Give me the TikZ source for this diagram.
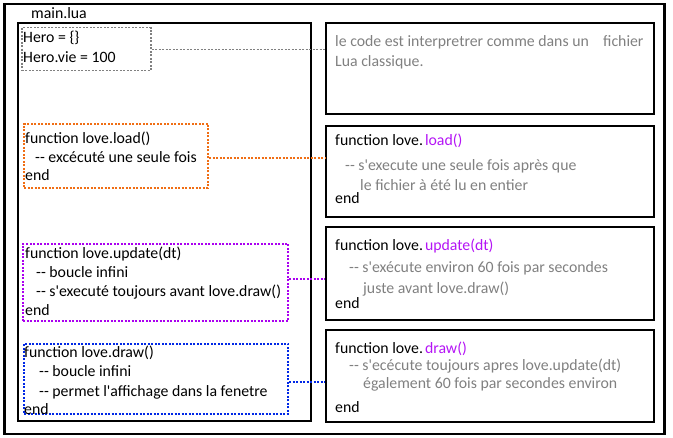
\documentclass[tikz,border=0pt]{standalone}
\usepackage{fontspec}
\setmainfont{Carlito}[Ligatures=TeXOff]
\definecolor{codegray}{RGB}{128,128,128}
\definecolor{loadorange}{RGB}{240,110,20}
\definecolor{updatepurple}{RGB}{170,0,240}
\definecolor{lovepurple}{RGB}{180,20,245}
\definecolor{drawblue}{RGB}{0,40,230}
\newcommand{\codefont}{\fontsize{15.8}{19}\selectfont}

\tikzset{
	frame/.style={draw, line width=2pt, inner sep=0pt, anchor=north west},
	codebox/.style={draw, line width=2pt, dash pattern=on 2pt off 1.5pt, inner sep=0pt, anchor=north west},
	codetext/.style={anchor=north west, inner sep=0pt, align=left, font=\codefont},
	link/.style={line width=2pt, dash pattern=on 2pt off 1.5pt},
}

\begin{document}
\begin{tikzpicture}[x=1pt, y=-1pt]
	\useasboundingbox (0,0) rectangle (673,438);
	% outer frame and the main.lua file
	\node[frame, line width=2.5pt, minimum width=660pt, minimum height=430pt] (outer) at (3,3) {};
	\node[codetext, anchor=west] (filename) at (31,13) {main.lua};
	\node[frame, minimum width=293pt, minimum height=398pt] (mainbox) at (17,22) {};

	% code blocks of main.lua
	\node[codebox, draw=codegray, line width=1.5pt, minimum width=129pt, minimum height=43pt] (hero) at (21,27) {};
	\node[codetext] (herotxt) at (23,30.5) {Hero = \{\}\\[1pt] Hero.vie = 100};

	\node[codebox, draw=loadorange, minimum width=184pt, minimum height=64pt] (load) at (23,123) {};
	\node[codetext] (loadtxt) at (25,131.5) {function love.load()\\ \hspace*{10pt}-{}- excécuté une seule fois\\[-1pt] end};

	\node[codebox, draw=updatepurple, minimum width=265pt, minimum height=77pt] (update) at (22,243) {};
	\node[codetext] (updatetxt) at (25,246.5) {function love.update(dt)\\ \hspace*{11pt}-{}- boucle infini\\ \hspace*{11pt}-{}- s'executé toujours avant love.draw()\\ end};

	\node[codebox, draw=drawblue, minimum width=264pt, minimum height=70pt] (draw) at (23,343) {};
	\node[codetext] (drawtxt) at (24,345.5) {function love.draw()\\ \hspace*{15pt}-{}- boucle infini\\[1pt] \hspace*{15pt}-{}- permet l'affichage dans la fenetre\\[-1pt] end};

	% explanations on the right
	\node[frame, minimum width=328pt, minimum height=91pt] (desc1) at (325,22) {};
	\node[codetext, text=codegray] (desc1txt) at (335,35.5) {le code est interpretrer comme dans un\ \ \ \ fichier\\[1pt] Lua classique.};

	\node[frame, minimum width=328pt, minimum height=91pt] (desc2) at (325,125) {};
	\node[codetext] (desc2txt) at (335,133.5) {function love.\hspace{2pt}{\color{lovepurple}load()}\\[6pt]
		\hspace*{10pt}{\color{codegray}-{}- s'execute une seule fois après que}\\[1pt]
		\hspace*{25pt}{\color{codegray}le fichier à été lu en entier}\\[-6pt]
		end};

	\node[frame, minimum width=328pt, minimum height=93pt] (desc3) at (325,226) {};
	\node[codetext] (desc3txt) at (335,238.5) {function love.\hspace{2pt}{\color{lovepurple}update(dt)}\\[3pt]
		\hspace*{14pt}{\color{codegray}-{}- s'exécute environ 60 fois par secondes}\\[2pt]
		\hspace*{28pt}{\color{codegray}juste avant love.draw()}\\[-4pt]
		end};

	\node[frame, minimum width=328pt, minimum height=92pt] (desc4) at (325,329) {};
	\node[codetext] (desc4txt) at (335,341.5) {function love.\hspace{2pt}{\color{lovepurple}draw()}\\[-2pt]
		\hspace*{14pt}{\color{codegray}-{}- s'ecécute toujours apres love.update(dt)}\\[-1pt]
		\hspace*{28pt}{\color{codegray}également 60 fois par secondes environ}\\[5pt]
		end};

	% dotted links
	\draw[link, line width=1.2pt, codegray] (hero.east) -- (hero.east -| desc1.west);
	\draw[link, loadorange] ([yshift=-2pt]load.east) -- ([yshift=-2pt]load.east -| desc2.west);
	\draw[link, updatepurple] ([yshift=3pt]update.east) -- ([yshift=3pt]update.east -| desc3.west);
	\draw[link, drawblue] ([yshift=-3pt]draw.east) -- ([yshift=-3pt]draw.east -| desc4.west);
\end{tikzpicture}
\end{document}
